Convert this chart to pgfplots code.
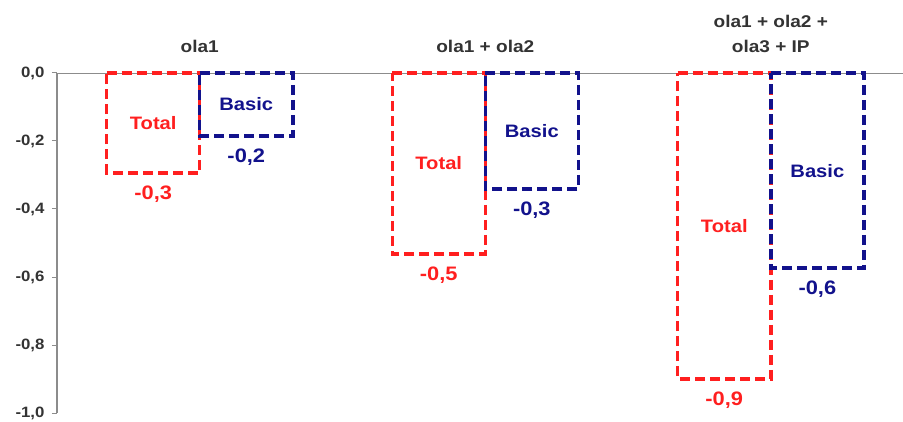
\documentclass[border=0pt]{standalone}
\usepackage{fontspec}
\setmainfont{Liberation Sans}[FakeStretch=1.12]
\usepackage{pgfplots}
\usepackage{pgfplotstable}
\pgfplotsset{compat=1.18}
\definecolor{tred}{HTML}{FF1F1F}
\definecolor{bblue}{HTML}{12128C}
\definecolor{axgray}{HTML}{8C8C8C}
\definecolor{txtgray}{HTML}{333333}

\pgfplotstableread{
x total basic totalmid basicmid
0 -0.294 -0.185 -0.147 -0.0925
1 -0.532 -0.341 -0.266 -0.1705
2 -0.900 -0.574 -0.450 -0.287
}\datatable

\begin{document}
\begin{tikzpicture}
\path[use as bounding box] (-57pt,-8pt) rectangle (846pt,413pt);
\begin{axis}[
  scale only axis, width=846pt, height=340pt,
  xmin=-0.5, xmax=2.463, ymin=-1, ymax=0,
  clip=false,
  axis x line=top, axis y line=left,
  axis line style={-},
  x axis line style={draw=axgray, line width=0.8pt},
  y axis line style={draw=axgray, line width=1.3pt},
  xtick={0,1,2},
  xticklabels={ola1, ola1 + ola2, {ola1 + ola2 +\\ola3 + IP}},
  xticklabel style={align=center, font=\fontsize{17}{25}\selectfont\bfseries, text=txtgray, anchor=south, yshift=12pt},
  x tick style={draw=none},
  ytick={-1,-0.8,-0.6,-0.4,-0.2,0},
  ytick pos=left,
  tick align=outside,
  major tick length=5pt,
  y tick style={draw=axgray, line width=1pt},
  yticklabel style={font=\fontsize{15}{18}\selectfont\bfseries, text=txtgray, xshift=-4pt},
  bar width=0.326,
  /pgf/number format/.cd, use comma, fixed, fixed zerofill, precision=1, assume math mode=true,
]
% Total bars
\addplot[ybar, bar shift=0pt, draw=tred, fill=none, line width=3.4pt,
  dash pattern=on 10pt off 5pt,
  nodes near coords,
  every node near coord/.append style={anchor=north, text=tred, font=\fontsize{19.5}{22}\selectfont\bfseries, yshift=-8pt},
  /pgf/number format/.cd, use comma, fixed, fixed zerofill, precision=1, assume math mode=true]
  table[x expr=\thisrow{x}-0.163, y=total] {\datatable};
% Basic bars
\addplot[ybar, bar shift=0pt, draw=bblue, fill=none, line width=3.4pt,
  dash pattern=on 10pt off 5pt,
  nodes near coords,
  every node near coord/.append style={anchor=north, text=bblue, font=\fontsize{19.5}{22}\selectfont\bfseries, yshift=-8pt},
  /pgf/number format/.cd, use comma, fixed, fixed zerofill, precision=1, assume math mode=true]
  table[x expr=\thisrow{x}+0.163, y=basic] {\datatable};
% inner labels at half height
\addplot[only marks, mark=none, draw=none,
  nodes near coords={Total},
  every node near coord/.append style={anchor=center, text=tred, font=\fontsize{18}{20}\selectfont\bfseries}]
  table[x expr=\thisrow{x}-0.163, y=totalmid] {\datatable};
\addplot[only marks, mark=none, draw=none,
  nodes near coords={Basic},
  every node near coord/.append style={anchor=center, text=bblue, font=\fontsize{18}{20}\selectfont\bfseries}]
  table[x expr=\thisrow{x}+0.163, y=basicmid] {\datatable};
\end{axis}
\end{tikzpicture}
\end{document}
